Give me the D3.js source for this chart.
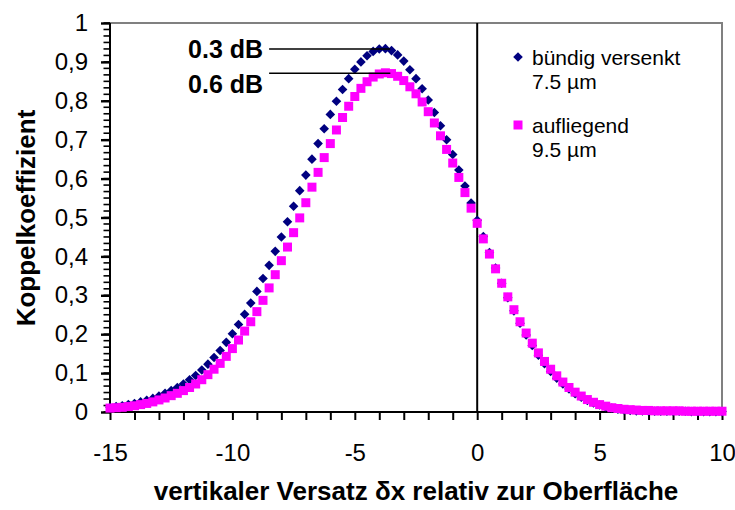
<!DOCTYPE html>
<html>
<head>
<meta charset="utf-8">
<script src="https://cdn.jsdelivr.net/npm/d3@7"></script>
<style>
  body { margin: 0; background: #fff; }
  text { font-family: "Liberation Sans", Arial, sans-serif; }
</style>
</head>
<body>
<svg id="chart" width="735" height="510"></svg>
<script>
// lateral offset in µm (step 0.25)
const offsets = [
  -15, -14.75, -14.5, -14.25, -14, -13.75, -13.5, -13.25,
  -13, -12.75, -12.5, -12.25, -12, -11.75, -11.5, -11.25,
  -11, -10.75, -10.5, -10.25, -10, -9.75, -9.5, -9.25,
  -9, -8.75, -8.5, -8.25, -8, -7.75, -7.5, -7.25,
  -7, -6.75, -6.5, -6.25, -6, -5.75, -5.5, -5.25,
  -5, -4.75, -4.5, -4.25, -4, -3.75, -3.5, -3.25,
  -3, -2.75, -2.5, -2.25, -2, -1.75, -1.5, -1.25,
  -1, -0.75, -0.5, -0.25,
  0, 0.25, 0.5, 0.75, 1, 1.25, 1.5, 1.75,
  2, 2.25, 2.5, 2.75, 3, 3.25, 3.5, 3.75,
  4, 4.25, 4.5, 4.75, 5, 5.25, 5.5, 5.75,
  6, 6.25, 6.5, 6.75, 7, 7.25, 7.5, 7.75,
  8, 8.25, 8.5, 8.75, 9, 9.25, 9.5, 9.75,
  10
];

// bündig versenkt 7.5 µm
const buendig = [
  0.012, 0.014, 0.016, 0.019, 0.022, 0.026, 0.030, 0.035,
  0.041, 0.048, 0.055, 0.063, 0.072, 0.083, 0.094, 0.108,
  0.123, 0.140, 0.158, 0.179, 0.201, 0.225, 0.251, 0.280,
  0.310, 0.343, 0.377, 0.413, 0.450, 0.489, 0.529, 0.569,
  0.609, 0.650, 0.690, 0.728, 0.765, 0.799, 0.829, 0.857,
  0.881, 0.900, 0.916, 0.927, 0.933, 0.934, 0.929, 0.918,
  0.902, 0.880, 0.857, 0.831, 0.802, 0.770, 0.736, 0.700,
  0.662, 0.622, 0.581, 0.537,
  0.493, 0.451, 0.410, 0.370, 0.331, 0.294, 0.260, 0.228,
  0.198, 0.171, 0.146, 0.124, 0.104, 0.087, 0.072, 0.059,
  0.047, 0.038, 0.030, 0.023, 0.018, 0.013, 0.010, 0.007,
  0.005, 0.004, 0.003, 0.003, 0.002, 0.002, 0.002, 0.002,
  0.002, 0.002, 0.002, 0.001, 0.001, 0.001, 0.001, 0.001,
  0.001
];

// aufliegend 9.5 µm
const aufliegend = [
  0.010, 0.011, 0.012, 0.014, 0.016, 0.019, 0.022, 0.026,
  0.031, 0.036, 0.042, 0.048, 0.055, 0.063, 0.072, 0.083,
  0.096, 0.110, 0.125, 0.143, 0.163, 0.185, 0.208, 0.232,
  0.258, 0.287, 0.319, 0.353, 0.389, 0.424, 0.461, 0.499,
  0.538, 0.578, 0.616, 0.654, 0.690, 0.725, 0.757, 0.786,
  0.811, 0.832, 0.849, 0.861, 0.869, 0.872, 0.870, 0.863,
  0.852, 0.836, 0.818, 0.797, 0.772, 0.743, 0.710, 0.675,
  0.640, 0.603, 0.564, 0.524,
  0.485, 0.445, 0.406, 0.368, 0.331, 0.296, 0.263, 0.232,
  0.203, 0.177, 0.152, 0.130, 0.110, 0.093, 0.077, 0.063,
  0.051, 0.041, 0.032, 0.025, 0.019, 0.015, 0.011, 0.009,
  0.007, 0.006, 0.005, 0.004, 0.004, 0.003, 0.003, 0.003,
  0.003, 0.003, 0.002, 0.002, 0.002, 0.002, 0.002, 0.002,
  0.002
];

const xTicks = [-15, -10, -5, 0, 5, 10];
const yTicks = [0, 0.1, 0.2, 0.3, 0.4, 0.5, 0.6, 0.7, 0.8, 0.9, 1];
const yTickLabels = ['0', '0,1', '0,2', '0,3', '0,4', '0,5', '0,6', '0,7', '0,8', '0,9', '1'];

// annotations: label, level, line from/to (x)
const notes = [
  {label: '0.3 dB', level: 0.933, from: -8.5, to: -3.55},
  {label: '0.6 dB', level: 0.871, from: -8.5, to: -3.55}
];

const legendItems = [
  {lines: ['bündig versenkt', '7.5 µm'], color: '#000080', shape: 'diamond'},
  {lines: ['aufliegend', '9.5 µm'], color: '#ff00ff', shape: 'square'}
];

const plot = {left: 110, right: 722, top: 23, bottom: 412};

const svg = d3.select('#chart');

const x = d3.scaleLinear().domain([-15, 10]).range([plot.left, plot.right]);
const y = d3.scaleLinear().domain([0, 1]).range([plot.bottom, plot.top]);

const diamondPath = 'M0,-4.8L4.8,0L0,4.8L-4.8,0Z';
const squarePath = 'M-4.5,-4.5H4.5V4.5H-4.5Z';

// plot frame: grey top & right
svg.append('path')
    .attr('d', `M${plot.left},${plot.top}H${plot.right}V${plot.bottom}`)
    .attr('fill', 'none')
    .attr('stroke', '#808080')
    .attr('stroke-width', 2);

// x axis (ticks every unit, labels every 5)
const xAxis = svg.append('g')
    .attr('transform', `translate(0,${plot.bottom})`)
    .call(d3.axisBottom(x)
        .tickValues(d3.range(-15, 11, 1))
        .tickSize(8)
        .tickPadding(24)
        .tickFormat(d => xTicks.includes(d) ? d : ''));
xAxis.select('.domain').attr('stroke', '#000').attr('stroke-width', 2).attr('d', `M${plot.left},0H${plot.right}`);
xAxis.selectAll('.tick line').attr('stroke', '#000').attr('stroke-width', 2);
xAxis.selectAll('text').attr('font-size', 24).attr('fill', '#000')
    .attr('font-family', '"Liberation Sans", Arial, sans-serif');

// y axis minor ticks
const minorY = d3.range(0, 61).map(i => i / 60);
svg.append('g')
    .selectAll('line')
    .data(minorY)
    .join('line')
    .attr('x1', plot.left - 6.5)
    .attr('x2', plot.left)
    .attr('y1', d => y(d))
    .attr('y2', d => y(d))
    .attr('stroke', '#000')
    .attr('stroke-width', 1.6);

const yAxis = svg.append('g')
    .attr('transform', `translate(${plot.left},0)`)
    .call(d3.axisLeft(y)
        .tickValues(yTicks)
        .tickSize(9)
        .tickPadding(13)
        .tickFormat((d, i) => yTickLabels[i]));
yAxis.select('.domain').attr('stroke', '#000').attr('stroke-width', 2).attr('d', `M0,${plot.top}V${plot.bottom + 1}`);
yAxis.selectAll('.tick line').attr('stroke', '#000').attr('stroke-width', 2.4);
yAxis.selectAll('text').attr('font-size', 24).attr('fill', '#000')
    .attr('font-family', '"Liberation Sans", Arial, sans-serif');

// vertical line at x = 0
svg.append('line')
    .attr('x1', x(0)).attr('x2', x(0))
    .attr('y1', plot.top).attr('y2', plot.bottom)
    .attr('stroke', '#000')
    .attr('stroke-width', 2);

// series
svg.append('g')
    .selectAll('path')
    .data(offsets.map((o, i) => ({o, v: buendig[i]})))
    .join('path')
    .attr('d', diamondPath)
    .attr('transform', d => `translate(${x(d.o)},${y(d.v)})`)
    .attr('fill', '#000080');

svg.append('g')
    .selectAll('path')
    .data(offsets.map((o, i) => ({o, v: aufliegend[i]})))
    .join('path')
    .attr('d', squarePath)
    .attr('transform', d => `translate(${x(d.o)},${y(d.v)})`)
    .attr('fill', '#ff00ff');

// annotations
const noteG = svg.append('g');
noteG.selectAll('line')
    .data(notes)
    .join('line')
    .attr('x1', d => x(d.from)).attr('x2', d => x(d.to))
    .attr('y1', d => y(d.level)).attr('y2', d => y(d.level))
    .attr('stroke', '#000')
    .attr('stroke-width', 1.5);
noteG.selectAll('text')
    .data(notes)
    .join('text')
    .attr('x', d => x(d.from) - 6)
    .attr('y', (d, i) => i === 0 ? 58 : 93)
    .attr('text-anchor', 'end')
    .attr('font-size', 25)
    .attr('font-weight', 'bold')
    .text(d => d.label);

// legend
const legend = svg.append('g').attr('transform', 'translate(518,0)');
legendItems.forEach((item, i) => {
    const top = i === 0 ? 65 : 133;
    legend.append('path')
        .attr('d', item.shape === 'diamond' ? diamondPath : squarePath)
        .attr('transform', `translate(0,${top - 8})`)
        .attr('fill', item.color);
    legend.append('text')
        .attr('x', 14)
        .attr('y', top)
        .attr('font-size', 21)
        .selectAll('tspan')
        .data(item.lines)
        .join('tspan')
        .attr('x', 14)
        .attr('dy', (d, j) => j === 0 ? 0 : 23.5)
        .text(d => d);
});

// axis titles
svg.append('text')
    .attr('x', (plot.left + plot.right) / 2)
    .attr('y', 500)
    .attr('text-anchor', 'middle')
    .attr('font-size', 26)
    .attr('font-weight', 'bold')
    .text('vertikaler Versatz δx relativ zur Oberfläche');

svg.append('text')
    .attr('transform', `translate(35,218) rotate(-90)`)
    .attr('text-anchor', 'middle')
    .attr('font-size', 26)
    .attr('font-weight', 'bold')
    .text('Koppelkoeffizient');
</script>
</body>
</html>
